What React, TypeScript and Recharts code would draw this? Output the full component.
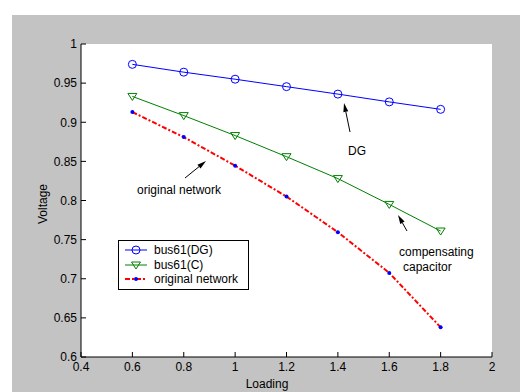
import React from "react";
import {
  CartesianGrid,
  Legend,
  Line,
  LineChart,
  XAxis,
  YAxis,
} from "recharts";

const loading = [0.6, 0.8, 1.0, 1.2, 1.4, 1.6, 1.8];
const bus61DG = [0.974, 0.964, 0.955, 0.9455, 0.936, 0.926, 0.9165];
const bus61C = [0.933, 0.9085, 0.883, 0.856, 0.828, 0.795, 0.761];
const originalNetwork = [0.913, 0.881, 0.8445, 0.805, 0.7595, 0.7075, 0.638];

const xTicks = [0.4, 0.6, 0.8, 1, 1.2, 1.4, 1.6, 1.8, 2];
const yTicks = [0.6, 0.65, 0.7, 0.75, 0.8, 0.85, 0.9, 0.95, 1];

const data = loading.map((x, i) => ({
  x,
  dg: bus61DG[i],
  c: bus61C[i],
  orig: originalNetwork[i],
}));

const FONT = "'Liberation Sans', Arial, sans-serif";
const BLUE = "#0000ff";
const GREEN = "#008000";
const RED = "#ff0000";

const CircleDot = (props: any) => {
  const { cx, cy } = props;
  if (cx == null || cy == null) return null;
  return <circle cx={cx} cy={cy} r={4} fill="none" stroke={BLUE} strokeWidth={1} />;
};

const TriDot = (props: any) => {
  const { cx, cy } = props;
  if (cx == null || cy == null) return null;
  return (
    <polygon
      points={`${cx - 4.5},${cy - 3} ${cx + 4.5},${cy - 3} ${cx},${cy + 4}`}
      fill="none"
      stroke={GREEN}
      strokeWidth={1}
    />
  );
};

const PointDot = (props: any) => {
  const { cx, cy } = props;
  if (cx == null || cy == null) return null;
  return <circle cx={cx} cy={cy} r={2} fill={BLUE} stroke="none" />;
};

const noTick = () => <g />;

const legendRows = [
  { name: "bus61(DG)", color: BLUE, dash: undefined, width: 1, marker: "circle" },
  { name: "bus61(C)", color: GREEN, dash: undefined, width: 1, marker: "tri" },
  { name: "original network", color: RED, dash: "5 2 2 2", width: 2, marker: "point" },
];

function LegendBox() {
  return (
    <div
      style={{
        border: "1px solid #000",
        background: "#fff",
        padding: "2px 6px 2px 6px",
        fontFamily: FONT,
        fontSize: 12,
        color: "#000",
        width: 117,
      }}
    >
      {legendRows.map((r) => (
        <div key={r.name} style={{ display: "flex", alignItems: "center", height: 14.5, whiteSpace: "nowrap" }}>
          <svg width={22} height={12} style={{ marginRight: 7, flex: "none" }}>
            <line x1={0} y1={6} x2={22} y2={6} stroke={r.color} strokeWidth={r.width} strokeDasharray={r.dash} />
            {r.marker === "circle" && <circle cx={11} cy={6} r={4} fill="none" stroke={BLUE} />}
            {r.marker === "tri" && <polygon points="6.5,3 15.5,3 11,10" fill="none" stroke={GREEN} />}
            {r.marker === "point" && <circle cx={11} cy={6} r={2} fill={BLUE} />}
          </svg>
          <span>{r.name}</span>
        </div>
      ))}
    </div>
  );
}

function Arrow({ x1, y1, x2, y2 }: { x1: number; y1: number; x2: number; y2: number }) {
  const a = Math.atan2(y2 - y1, x2 - x1);
  const L = 9;
  const w = 2.5;
  const bx = x2 - L * Math.cos(a);
  const by = y2 - L * Math.sin(a);
  const px = -Math.sin(a) * w;
  const py = Math.cos(a) * w;
  return (
    <g>
      <line x1={x1} y1={y1} x2={bx} y2={by} stroke="#000" strokeWidth={1} />
      <polygon points={`${x2},${y2} ${bx + px},${by + py} ${bx - px},${by - py}`} fill="#000" />
    </g>
  );
}

export default function App() {
  return (
    <div style={{ position: "absolute", left: 0, top: 0, width: 520, height: 392, background: "#fff", overflow: "hidden" }}>
      <div style={{ position: "absolute", left: 12, top: 15, width: 508, height: 377, background: "#c3c3c3" }} />
      <div style={{ position: "absolute", left: 0, top: 0 }}>
        <LineChart
          width={520}
          height={392}
          data={data}
          margin={{ top: 44, right: 28, left: 41, bottom: 15 }}
        >
          <CartesianGrid horizontal={false} vertical={false} fill="#ffffff" />
          <XAxis
            xAxisId="b"
            dataKey="x"
            type="number"
            domain={[0.4, 2]}
            ticks={xTicks}
            allowDataOverflow
            height={20}
            stroke="#000"
            tickSize={-5}
            tickMargin={10}
            tick={{ fill: "#000", fontSize: 12, fontFamily: FONT }}
          />
          <XAxis
            xAxisId="t"
            orientation="top"
            dataKey="x"
            type="number"
            domain={[0.4, 2]}
            ticks={xTicks}
            height={0}
            stroke="#000"
            tickSize={-5}
            tick={noTick}
          />
          <YAxis
            yAxisId="l"
            type="number"
            domain={[0.6, 1]}
            ticks={yTicks}
            allowDataOverflow
            width={40}
            stroke="#000"
            tickSize={-5}
            tickMargin={9}
            tick={{ fill: "#000", fontSize: 12, fontFamily: FONT }}
          />
          <YAxis
            yAxisId="r"
            orientation="right"
            type="number"
            domain={[0.6, 1]}
            ticks={yTicks}
            width={0}
            stroke="#000"
            tickSize={-5}
            tick={noTick}
          />
          <Line
            xAxisId="b"
            yAxisId="l"
            dataKey="dg"
            name="bus61(DG)"
            stroke={BLUE}
            strokeWidth={1}
            dot={<CircleDot />}
            isAnimationActive={false}
          />
          <Line
            xAxisId="b"
            yAxisId="l"
            dataKey="c"
            name="bus61(C)"
            stroke={GREEN}
            strokeWidth={1}
            dot={<TriDot />}
            isAnimationActive={false}
          />
          <Line
            xAxisId="b"
            yAxisId="l"
            dataKey="orig"
            name="original network"
            stroke={RED}
            strokeWidth={2}
            strokeDasharray="5 2 2 2"
            dot={<PointDot />}
            isAnimationActive={false}
          />
          <Legend
            layout="vertical"
            align="center"
            verticalAlign="middle"
            content={() => <LegendBox />}
            wrapperStyle={{ left: 118, top: 240, width: 131 }}
          />
        </LineChart>
      </div>
      <svg
        width={520}
        height={392}
        style={{ position: "absolute", left: 0, top: 0, pointerEvents: "none" }}
      >
        <g fontFamily={FONT} fontSize={12} fill="#000">
          <text x={357} y={155} textAnchor="middle">DG</text>
          <text x={137} y={194}>original network</text>
          <text x={399} y={256}>compensating</text>
          <text x={403} y={271}>capacitor</text>
          <text x={267} y={388} textAnchor="middle">Loading</text>
          <text x={47} y={204} textAnchor="middle" transform="rotate(-90 47 204)">Voltage</text>
        </g>
        <Arrow x1={350} y1={132} x2={344} y2={103} />
        <Arrow x1={185} y1={178} x2={206} y2={161} />
        <Arrow x1={407} y1={231} x2={398} y2={215} />
      </svg>
    </div>
  );
}
